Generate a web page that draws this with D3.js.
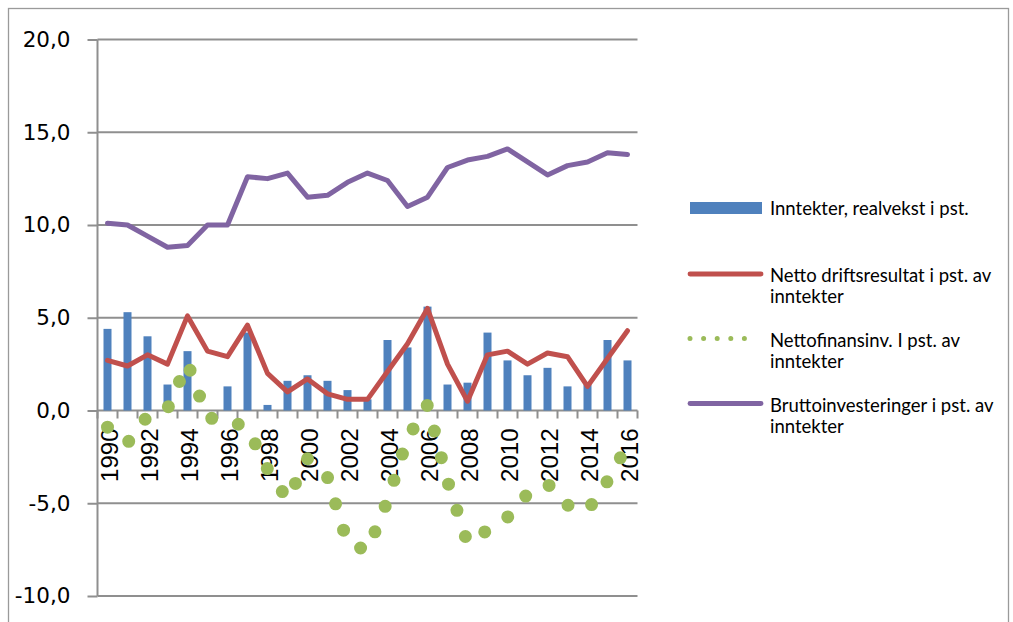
<!DOCTYPE html>
<html>
<head>
<meta charset="utf-8">
<script src="https://cdn.jsdelivr.net/npm/d3@7"></script>
<style>
  body { margin: 0; background: #fff; }
  .ylab { font-family: "DejaVu Sans", sans-serif; font-size: 21.5px; fill: #000; }
  .xlab { font-family: "Liberation Sans", Arial, sans-serif; font-size: 24px; fill: #000; }
  .leg { font-family: Lato, "Open Sans", sans-serif; font-size: 18.5px; fill: #000; }
</style>
</head>
<body>
<div class="vis"></div>
<script>
const years = [1990, 1991, 1992, 1993, 1994, 1995, 1996, 1997, 1998, 1999, 2000, 2001, 2002, 2003,
  2004, 2005, 2006, 2007, 2008, 2009, 2010, 2011, 2012, 2013, 2014, 2015, 2016];

// Inntekter, realvekst i pst.
const inntekter = [4.4, 5.3, 4.0, 1.4, 3.2, 0.0, 1.3, 4.2, 0.3, 1.6, 1.9, 1.6, 1.1, 0.6,
  3.8, 3.4, 5.6, 1.4, 1.5, 4.2, 2.7, 1.9, 2.3, 1.3, 1.4, 3.8, 2.7];

// Netto driftsresultat i pst. av inntekter
const nettoDrift = [2.7, 2.4, 3.0, 2.5, 5.1, 3.2, 2.9, 4.6, 2.0, 1.0, 1.7, 0.9, 0.6, 0.6,
  2.1, 3.6, 5.5, 2.5, 0.5, 3.0, 3.2, 2.5, 3.1, 2.9, 1.3, 2.8, 4.3];

// Nettofinansinv. I pst. av inntekter
const nettoFinans = [-0.9, -1.75, -0.3, 0.1, 2.55, -0.4, -0.5, -0.95, -3.15, -4.8, -2.6, -3.6, -7.15, -7.55,
  -4.85, -1.5, 0.3, -3.8, -7.15, -6.45, -5.75, -4.5, -3.95, -5.1, -5.4, -3.8, -1.85];

// Bruttoinvesteringer i pst. av inntekter
const brutto = [10.1, 10.0, 9.4, 8.8, 8.9, 10.0, 10.0, 12.6, 12.5, 12.8, 11.5, 11.6, 12.3, 12.8,
  12.4, 11.0, 11.5, 13.1, 13.5, 13.7, 14.1, 13.4, 12.7, 13.2, 13.4, 13.9, 13.8];

const yTicks = [-10, -5, 0, 5, 10, 15, 20];
const xLabelYears = [1990, 1992, 1994, 1996, 1998, 2000, 2002, 2004, 2006, 2008, 2010, 2012, 2014, 2016];

const legendNames = [
  ["Inntekter, realvekst i pst."],
  ["Netto driftsresultat i pst. av", "inntekter"],
  ["Nettofinansinv. I pst. av", "inntekter"],
  ["Bruttoinvesteringer i pst. av", "inntekter"]
];

const colors = { bar: "#4F81BD", red: "#C0504D", green: "#9BBB59", purple: "#8064A2", grid: "#8f8f8f" };

const width = 1013, height = 622;
const plot = { left: 97.5, right: 637.5, top: 39.5, bottom: 596 };

const svg = d3.select(".vis").append("svg")
  .attr("width", width)
  .attr("height", height);

// outer chart border
svg.append("rect")
  .attr("x", 8.5).attr("y", 8.5)
  .attr("width", 1000).attr("height", 630)
  .attr("fill", "none")
  .attr("stroke", "#9a9a9a")
  .attr("stroke-width", 1.3);

const x = d3.scaleBand()
  .domain(years)
  .range([plot.left, plot.right])
  .padding(0);

const y = d3.scaleLinear()
  .domain([-10, 20])
  .range([plot.bottom, plot.top]);

const fmt = d3.formatLocale({ decimal: ",", thousands: " ", grouping: [3], currency: ["", ""], minus: "-" }).format(".1f");

// gridlines
svg.append("g")
  .selectAll("line")
  .data(yTicks)
  .join("line")
  .attr("x1", plot.left)
  .attr("x2", plot.right)
  .attr("y1", (d) => y(d))
  .attr("y2", (d) => y(d))
  .attr("stroke", colors.grid)
  .attr("stroke-width", 2);

// y axis
const yAxis = (g) =>
  g
    .attr("transform", `translate(${plot.left},0)`)
    .call(d3.axisLeft(y).tickValues(yTicks).tickFormat(fmt).tickSize(10).tickPadding(17))
    .call((g) => g.selectAll("line, path").attr("stroke", colors.grid).attr("stroke-width", 2))
    .call((g) => g.select(".domain").attr("d", `M0,${plot.top}V${plot.bottom}`))
    .call((g) => g.selectAll("text").attr("class", "ylab").attr("font-family", null).attr("font-size", null));
svg.append("g").call(yAxis);

// x axis tick marks at band edges
const edges = years.map((d) => x(d)).concat([plot.right]);
svg.append("g")
  .selectAll("line")
  .data(edges)
  .join("line")
  .attr("x1", (d) => d)
  .attr("x2", (d) => d)
  .attr("y1", y(0))
  .attr("y2", y(0) + 8)
  .attr("stroke", colors.grid)
  .attr("stroke-width", 2);

svg.append("g")
  .selectAll("text")
  .data(xLabelYears)
  .join("text")
  .attr("class", "xlab")
  .attr("transform", (d) => `translate(${x(d) + x.bandwidth() / 2 + 2},${y(0) + 18}) rotate(-90)`)
  .attr("text-anchor", "end")
  .attr("dy", "0.35em")
  .text((d) => d);

// bars
const barW = x.bandwidth() * 0.4;
svg.append("g")
  .selectAll("rect")
  .data(years)
  .join("rect")
  .attr("x", (d) => x(d) + (x.bandwidth() - barW) / 2)
  .attr("y", (d, i) => y(Math.max(0, inntekter[i])))
  .attr("width", barW)
  .attr("height", (d, i) => Math.abs(y(inntekter[i]) - y(0)))
  .attr("fill", colors.bar);

const cx = (d) => x(d) + x.bandwidth() / 2;
const lineOf = (vals) => d3.line().x((d) => cx(d)).y((d, i) => y(vals[i]))(years);

svg.append("path")
  .attr("d", lineOf(nettoDrift))
  .attr("fill", "none")
  .attr("stroke", colors.red)
  .attr("stroke-width", 5)
  .attr("stroke-linejoin", "round")
  .attr("stroke-linecap", "round");

// round-dot line: dots spaced along the path
svg.append("path")
  .attr("d", lineOf(nettoFinans))
  .attr("fill", "none")
  .attr("stroke", colors.green)
  .attr("stroke-width", 13)
  .attr("stroke-dasharray", "0 27.5")
  .attr("stroke-linejoin", "round")
  .attr("stroke-linecap", "round");

svg.append("path")
  .attr("d", lineOf(brutto))
  .attr("fill", "none")
  .attr("stroke", colors.purple)
  .attr("stroke-width", 5)
  .attr("stroke-linejoin", "round")
  .attr("stroke-linecap", "round");

// legend
const leg = svg.append("g");
const legSymY = [208, 274, 338.5, 403.5];
const legTextY = [214.5, 281.5, 346.5, 411.5];

leg.append("rect")
  .attr("x", 690).attr("y", legSymY[0] - 6)
  .attr("width", 72).attr("height", 12)
  .attr("fill", colors.bar);

[[1, colors.red, 4.8, null], [2, colors.green, 5, "0 13.6"], [3, colors.purple, 4.8, null]].forEach(([i, c, w, dash]) => {
  leg.append("line")
    .attr("x1", 690).attr("x2", dash ? 758 : 761)
    .attr("y1", legSymY[i]).attr("y2", legSymY[i])
    .attr("stroke", c)
    .attr("stroke-width", w)
    .attr("stroke-linecap", "round")
    .attr("stroke-dasharray", dash);
});

legendNames.forEach((lines, i) => {
  const t = leg.append("text").attr("class", "leg").attr("x", 770).attr("y", legTextY[i]);
  lines.forEach((s, j) => {
    t.append("tspan").attr("x", 770).attr("dy", j === 0 ? 0 : 21.7).text(s);
  });
});
</script>
</body>
</html>
